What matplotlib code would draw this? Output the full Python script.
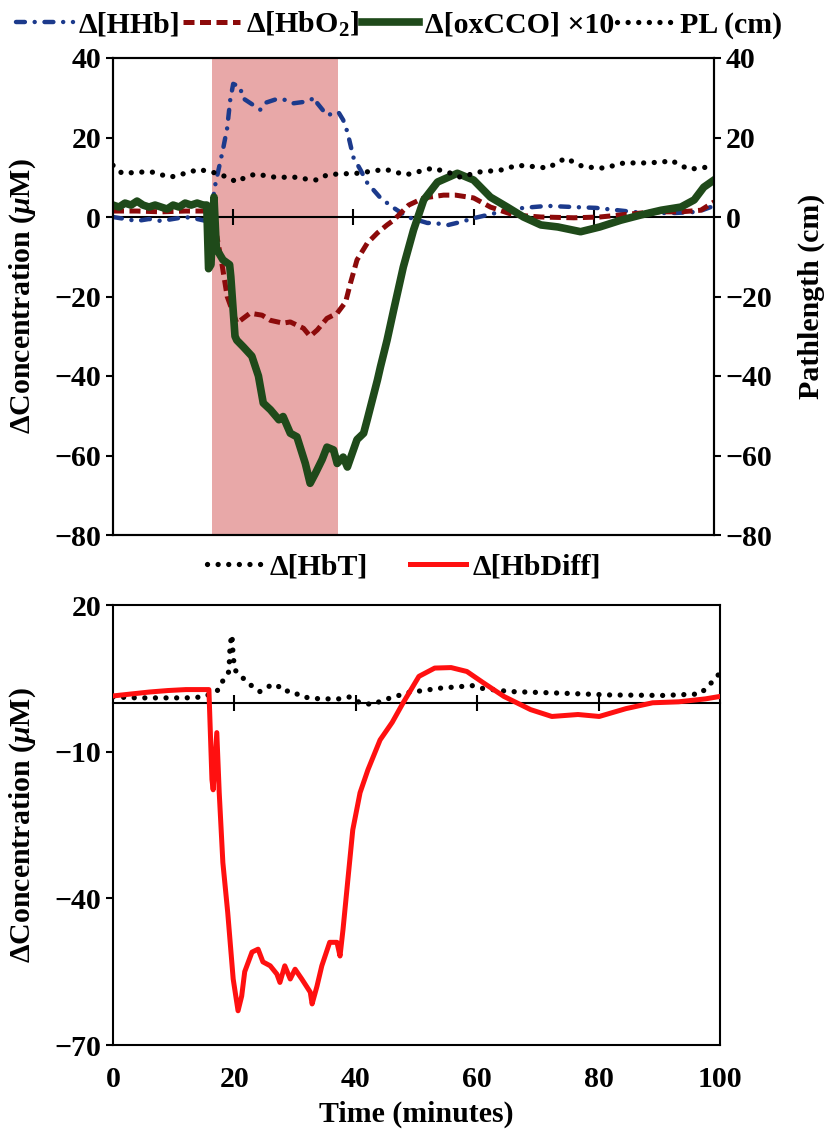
import numpy as np
import matplotlib
matplotlib.use("Agg")
import matplotlib.pyplot as plt

plt.rcParams['font.family'] = ['Liberation Serif', 'DejaVu Serif']
plt.rcParams['font.weight'] = 'bold'
plt.rcParams['axes.labelweight'] = 'bold'
plt.rcParams['mathtext.fontset'] = 'custom'
plt.rcParams['mathtext.rm'] = 'Liberation Serif:bold'
plt.rcParams['mathtext.it'] = 'Liberation Serif:italic:bold'
plt.rcParams['mathtext.bf'] = 'Liberation Serif:bold'
plt.rcParams['axes.unicode_minus'] = True

# --- données panneau du haut (temps en minutes, valeurs en uM / cm) ---
t_hhb = [0, 2, 4, 6, 8, 10, 12, 14, 15.5, 16.5, 17, 18.3, 19, 19.5, 20, 21.2, 21.5, 22.8, 24.5, 25.3,
         27.3, 29, 30, 32, 33.7, 34, 35.6, 37.5, 38.3, 39, 40, 41.2, 42.3, 44.5, 46.5, 49, 52.3, 53.3,
         55.8, 58, 60, 64.5, 68.3, 72.3, 76.7, 80.3, 84, 88.3, 93.3, 97.3, 100]
hhb = [0, -0.5, -1, -0.5, -1, -0.5, 0, -0.5, -1, 3, 8, 17, 22.4, 29.4, 33.5, 32.7, 30, 28.7, 27, 28.7,
       29.7, 29.4, 28.6, 29, 30, 28.6, 25.6, 26.4, 24.4, 21.4, 15, 11.8, 8.6, 4.8, 2.5, 0, -1.5, -1.5,
       -2, -1.2, -0.3, 1.3, 2.3, 2.8, 2.5, 2.3, 1.7, 1, 1, 1.3, 2.8]

t_hbo2 = [0, 4, 8, 12, 15.5, 16.5, 17.3, 18.2, 19, 20.6, 22.8, 24.8, 26.2, 28.3, 29.5, 31.7, 32.8, 34,
          35.6, 37.3, 38.7, 39.5, 40.6, 42.3, 44, 45.6, 46.7, 49.2, 51.7, 55, 57, 60, 62.8, 66.7, 71.2,
          76.7, 81, 85.7, 90, 94.5, 97.8, 100]
hbo2 = [1.5, 1.5, 1.3, 1.5, 1.5, -2, -5, -12.5, -20, -26.7, -24.2, -24.7, -26, -26.7, -26.4, -28, -30,
        -28.4, -25.5, -24.2, -21.4, -16.7, -10.8, -6.6, -4, -2, -0.8, 3, 4.8, 5.5, 5.5, 4.8, 2.5, 0.5, 0,
        -0.2, 0, 0.7, 1.3, 1.3, 1.7, 3.8]

t_cco = [0, 1, 2, 3, 4, 5, 6, 7, 8, 9, 10, 11, 12, 13, 14, 15, 15.6, 15.9, 16.3, 16.8, 17.2, 18.3, 19.4,
         19.6, 20.3, 20.6, 21.7, 23.1, 24.2, 25, 26.2, 27.6, 28.3, 29.5, 30.6, 32, 32.8, 33.7, 34.8, 35.6,
         36.7, 37.3, 38.3, 39, 40.6, 41.7, 42.3, 44, 44.5, 45.6, 46.7, 48.3, 50, 51.7, 54, 57.3, 60, 62.8,
         65.6, 68.3, 71.2, 74, 77.8, 81, 84.5, 87.8, 91.2, 94.5, 96.7, 98.3, 100]
cco = [3, 2.5, 3.5, 3, 4, 3, 2.5, 3, 2.5, 2, 3, 2.5, 3.5, 3, 3.5, 3, 3, -13, -12, 5, -8, -10.8, -12,
       -15, -30, -31, -32.7, -35, -40, -46.8, -48.5, -51, -50.2, -54.4, -55.3, -62, -67, -64.4, -61,
       -57.9, -58.6, -62, -60.4, -62.9, -56, -54.4, -51, -41, -37.7, -31, -23.4, -12.6, -3.3, 4.3, 8.8,
       11, 9.3, 5, 2.5, 0, -2, -2.5, -3.7, -2.5, -0.8, 0.5, 1.7, 2.5, 4.3, 7.5, 9.3]

t_pl = [0, 1.5, 4.8, 6.5, 9.5, 12.8, 14.2, 17.3, 19, 20.6, 22, 23.7, 27, 30.6, 32.3, 34, 35.6, 37.3,
        40.6, 45.3, 48.7, 53.2, 56.7, 57.8, 60.8, 64.5, 67.3, 70.7, 72.3, 75.3, 78.3, 81.7, 85, 88.3,
        91.5, 92.8, 95.8, 99.2, 100]
pl = [13, 11, 11.3, 11.3, 10, 11.3, 12, 11, 10, 8.8, 10, 10.8, 10, 10, 9.5, 9.3, 10.6, 10.8, 11, 12,
      10.6, 12.3, 10.8, 10, 11.3, 11.8, 13, 12.6, 12.3, 14.8, 12.6, 12.3, 13.6, 13.6, 13.8, 14.3, 12,
      12.6, 12.6]

# --- données panneau du bas ---
t_hbt = [0, 4, 8, 12, 15, 17.2, 18, 19.1, 19.3, 19.6, 19.8, 20.1, 21.2, 22.6, 24.2, 25.9, 27, 28, 29.5,
         31.1, 34.1, 37.4, 39, 40.7, 42, 42.5, 45.2, 48.7, 54, 59.2, 61, 65.3, 73.1, 81.9, 90.6, 96.7,
         98, 100]
hbt = [1.2, 1.0, 1.0, 1.0, 1.2, 2.5, 4.3, 6.4, 12, 13.9, 9.4, 6.7, 5.3, 3.7, 2.3, 3.5, 3.7, 2.4, 2.4,
       1.2, 0.8, 0.8, 1.2, 0, -0.2, -0.4, 0.8, 2.1, 3, 3.5, 2.9, 2.3, 2, 1.6, 1.5, 1.8, 3.3, 6.1]

t_diff = [0, 3, 6, 9, 12, 15, 15.8, 16.3, 16.5, 17.1, 17.5, 18.1, 18.9, 19.8, 20.6, 21.2, 21.7, 22.9,
          23.9, 24.7, 25.9, 27, 27.5, 28.3, 29.2, 30, 31.1, 32.5, 32.8, 33.6, 34.4, 35.7, 36.9, 37.4,
          37.9, 38.7, 39.5, 40.7, 42, 44, 46, 47.8, 50.4, 53, 55.7, 58.3, 61, 64.4, 68.8, 72.3, 76.6,
          80.1, 84.5, 88.9, 93.2, 97.6, 100]
hbdiff = [1.4, 1.8, 2.2, 2.5, 2.7, 2.7, 2.7, -15.7, -17.8, -6.1, -18.4, -32.7, -42.9, -56.5, -63, -60,
          -55, -51, -50.4, -53, -53.8, -55.5, -57.2, -53.8, -56.5, -54.5, -56.5, -59.2, -61.6, -58,
          -53.8, -49, -49, -51.8, -46.3, -36.1, -26, -18.4, -13.7, -7.6, -4, 0, 5.4, 7.1, 7.2, 6.4, 4.1,
          1.3, -1.4, -2.8, -2.4, -2.8, -1.2, 0, 0.2, 0.8, 1.3]

occlusion = (16.5, 37.5)

fs = 21.5
W, H = 829, 1147
fig = plt.figure(figsize=(W / 100, H / 100), dpi=100)

# ---------- panneau du haut ----------
ax1 = fig.add_axes([113 / W, (H - 535) / H, (714 - 113) / W, (535 - 58) / H])
ax1.axvspan(occlusion[0], occlusion[1], color='#e8a8a8', lw=0, zorder=0)
l_hhb, = ax1.plot(t_hhb, hhb, color='#1c3a8c', lw=3.2, dash_capstyle='round',
                  linestyle=(0, (2.0, 2.2, 0.01, 2.2)), zorder=3)
l_hbo2, = ax1.plot(t_hbo2, hbo2, color='#8c0a0a', lw=3.6, linestyle=(0, (2.2, 1.1)), zorder=4)
l_cco, = ax1.plot(t_cco, cco, color='#1f4a1a', lw=5.5, zorder=5)
ax1.set_xlim(0, 100)
ax1.set_ylim(-80, 40)
ax1.set_yticks(np.arange(-80, 41, 20))
ax1.set_xticks([])
ax1.tick_params(axis='y', direction='out', length=5, width=1.5, labelsize=fs)
for s in ax1.spines.values():
    s.set_linewidth(1.5)
ax1.set_ylabel('ΔConcentration ($\\mu$M)', fontsize=fs, labelpad=12)

ax1r = ax1.twinx()
l_pl, = ax1r.plot(t_pl, pl, color='black', lw=3.8, dash_capstyle='round',
                  linestyle=(0, (0.01, 2.0)), zorder=6)
ax1r.set_ylim(-80, 40)
ax1r.set_yticks(np.arange(-80, 41, 20))
ax1r.tick_params(axis='y', direction='out', length=5, width=1.5, labelsize=fs)
ax1r.set_ylabel('Pathlength (cm)', fontsize=fs, labelpad=18)
for s in ax1r.spines.values():
    s.set_linewidth(1.5)

zero1 = ax1.secondary_xaxis(80 / 120)
zero1.set_xticks([20, 40, 60, 80])
zero1.tick_params(direction='inout', length=12, width=1.5, labeltop=False, labelbottom=False)
for s in zero1.spines.values():
    s.set_linewidth(1.5)

fig.legend([l_hhb, l_hbo2, l_cco, l_pl],
           ['Δ[HHb]', 'Δ[HbO$_2$]', 'Δ[oxCCO] ×10', 'PL (cm)'],
           loc='upper center', bbox_to_anchor=(0.481, 1.01), ncol=4, frameon=False,
           fontsize=fs, handlelength=1.9, handletextpad=0.2, columnspacing=0.1,
           borderpad=0.2)

# ---------- panneau du bas ----------
ax2 = fig.add_axes([113 / W, (H - 1045) / H, (720 - 113) / W, (1045 - 605) / H])
l_hbt, = ax2.plot(t_hbt, hbt, color='black', lw=3.8, dash_capstyle='round',
                  linestyle=(0, (0.01, 2.0)), zorder=3)
l_diff, = ax2.plot(t_diff, hbdiff, color='#ff1010', lw=3.6, zorder=4)
ax2.set_xlim(0, 100)
ax2.set_ylim(-70, 20)
ax2.set_yticks([-70, -40, -10, 20])
ax2.set_xticks(np.arange(0, 101, 20))
ax2.tick_params(axis='x', length=0, pad=15, labelsize=fs)
ax2.tick_params(axis='y', direction='out', length=5, width=1.5, labelsize=fs)
for s in ax2.spines.values():
    s.set_linewidth(1.5)
ax2.set_ylabel('ΔConcentration ($\\mu$M)', fontsize=fs, labelpad=12)
ax2.set_xlabel('Time (minutes)', fontsize=fs, labelpad=6)

zero2 = ax2.secondary_xaxis(70 / 90)
zero2.set_xticks([20, 40, 60, 80])
zero2.tick_params(direction='inout', length=12, width=1.5, labeltop=False, labelbottom=False)
for s in zero2.spines.values():
    s.set_linewidth(1.5)

fig.legend([l_hbt, l_diff], ['Δ[HbT]', 'Δ[HbDiff]'],
           loc='center', bbox_to_anchor=(0.487, (H - 567) / H), ncol=2, frameon=False,
           fontsize=fs, handlelength=1.9, handletextpad=0.2, columnspacing=1.4)

fig.savefig('out.png', dpi=100)
